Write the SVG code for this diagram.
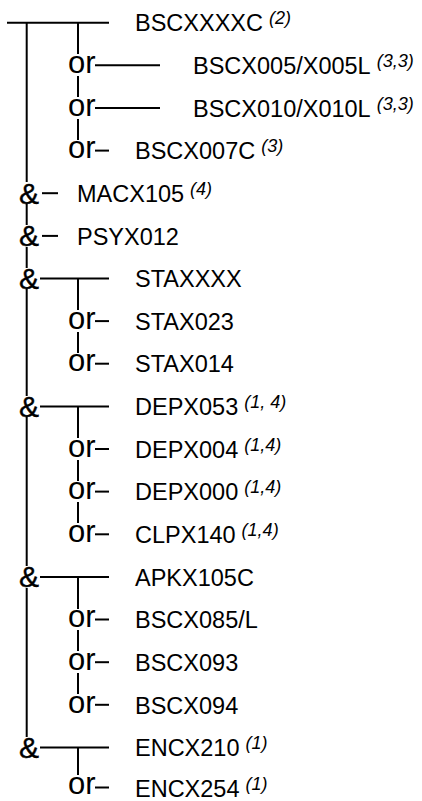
<svg xmlns="http://www.w3.org/2000/svg" width="422" height="801" viewBox="0 0 422 801">
<style>
.ln{stroke:#000;stroke-width:2;fill:none}
.t{font-family:"Liberation Sans",Arial,sans-serif;font-size:23.5px;fill:#000}
.s{font-family:"Liberation Sans",Arial,sans-serif;font-size:18px;font-style:italic;fill:#000}
.or{font-family:"Liberation Sans",Arial,sans-serif;font-size:31px;fill:#000}
.amp{font-family:"Liberation Sans",Arial,sans-serif;font-size:30px;fill:#000;stroke:#000;stroke-width:0.4}
</style>
<rect width="422" height="801" fill="#fff"/>
<g id="connectors" class="ln">
<line x1="26.7" y1="22.7" x2="26.7" y2="182"/>
<line x1="26.7" y1="204" x2="26.7" y2="225"/>
<line x1="26.7" y1="247" x2="26.7" y2="268"/>
<line x1="26.7" y1="289" x2="26.7" y2="396"/>
<line x1="26.7" y1="417" x2="26.7" y2="566"/>
<line x1="26.7" y1="588" x2="26.7" y2="737"/>
<line x1="7" y1="22.7" x2="109" y2="22.7"/>
<line x1="78" y1="22.7" x2="78" y2="54"/>
<line x1="78" y1="76" x2="78" y2="97"/>
<line x1="78" y1="119" x2="78" y2="140"/>
<line x1="95" y1="65.3" x2="160" y2="65.3"/>
<line x1="95" y1="108" x2="160" y2="108"/>
<line x1="95" y1="150.6" x2="109" y2="150.6"/>
<line x1="42" y1="193.2" x2="58" y2="193.2"/>
<line x1="42" y1="235.9" x2="58" y2="235.9"/>
<line x1="40" y1="278.5" x2="109" y2="278.5"/>
<line x1="78" y1="278.5" x2="78" y2="310"/>
<line x1="78" y1="332" x2="78" y2="353"/>
<line x1="95" y1="321.1" x2="109" y2="321.1"/>
<line x1="95" y1="363.7" x2="109" y2="363.7"/>
<line x1="40" y1="406.4" x2="109" y2="406.4"/>
<line x1="78" y1="406.4" x2="78" y2="438"/>
<line x1="78" y1="460" x2="78" y2="481"/>
<line x1="78" y1="502" x2="78" y2="523"/>
<line x1="95" y1="449" x2="109" y2="449"/>
<line x1="95" y1="491.6" x2="109" y2="491.6"/>
<line x1="95" y1="534.3" x2="109" y2="534.3"/>
<line x1="40" y1="576.9" x2="109" y2="576.9"/>
<line x1="78" y1="576.9" x2="78" y2="609"/>
<line x1="78" y1="630" x2="78" y2="651"/>
<line x1="78" y1="673" x2="78" y2="694"/>
<line x1="95" y1="619.5" x2="109" y2="619.5"/>
<line x1="95" y1="662.2" x2="109" y2="662.2"/>
<line x1="95" y1="704.8" x2="109" y2="704.8"/>
<line x1="40" y1="747.4" x2="109" y2="747.4"/>
<line x1="78" y1="747.4" x2="78" y2="775"/>
<line x1="95" y1="787.5" x2="109" y2="787.5"/>
</g>
<g id="operators">
<text class="or" x="68" y="73">or</text>
<text class="or" x="68" y="115.7">or</text>
<text class="or" x="68" y="158.3">or</text>
<text class="amp" x="19" y="203.6">&amp;</text>
<text class="amp" x="19" y="246.3">&amp;</text>
<text class="amp" x="19" y="288.9">&amp;</text>
<text class="or" x="68" y="328.8">or</text>
<text class="or" x="68" y="371.4">or</text>
<text class="amp" x="19" y="416.8">&amp;</text>
<text class="or" x="68" y="456.7">or</text>
<text class="or" x="68" y="499.3">or</text>
<text class="or" x="68" y="542">or</text>
<text class="amp" x="19" y="587.3">&amp;</text>
<text class="or" x="68" y="627.2">or</text>
<text class="or" x="68" y="669.9">or</text>
<text class="or" x="68" y="712.5">or</text>
<text class="amp" x="19" y="757.8">&amp;</text>
<text class="or" x="68" y="794">or</text>
</g>
<g id="n-BSCXXXXC"><text class="t" x="135" y="31.4">BSCXXXXC<tspan class="s" dx="6" dy="-7">(2)</tspan></text></g>
<g id="n-BSCX005"><text class="t" x="193" y="74">BSCX005/X005L<tspan class="s" dx="6" dy="-7">(3,3)</tspan></text></g>
<g id="n-BSCX010"><text class="t" x="193" y="116.7">BSCX010/X010L<tspan class="s" dx="6" dy="-7">(3,3)</tspan></text></g>
<g id="n-BSCX007C"><text class="t" x="135" y="159.3">BSCX007C<tspan class="s" dx="6" dy="-7">(3)</tspan></text></g>
<g id="n-MACX105"><text class="t" x="77" y="201.9">MACX105<tspan class="s" dx="6" dy="-7">(4)</tspan></text></g>
<g id="n-PSYX012"><text class="t" x="77" y="244.6">PSYX012</text></g>
<g id="n-STAXXXX"><text class="t" x="135" y="287.2">STAXXXX</text></g>
<g id="n-STAX023"><text class="t" x="135" y="329.8">STAX023</text></g>
<g id="n-STAX014"><text class="t" x="135" y="372.4">STAX014</text></g>
<g id="n-DEPX053"><text class="t" x="135" y="415.1">DEPX053<tspan class="s" dx="6" dy="-7">(1, 4)</tspan></text></g>
<g id="n-DEPX004"><text class="t" x="135" y="457.7">DEPX004<tspan class="s" dx="6" dy="-7">(1,4)</tspan></text></g>
<g id="n-DEPX000"><text class="t" x="135" y="500.3">DEPX000<tspan class="s" dx="6" dy="-7">(1,4)</tspan></text></g>
<g id="n-CLPX140"><text class="t" x="135" y="543">CLPX140<tspan class="s" dx="6" dy="-7">(1,4)</tspan></text></g>
<g id="n-APKX105C"><text class="t" x="135" y="585.6">APKX105C</text></g>
<g id="n-BSCX085L"><text class="t" x="135" y="628.2">BSCX085/L</text></g>
<g id="n-BSCX093"><text class="t" x="135" y="670.9">BSCX093</text></g>
<g id="n-BSCX094"><text class="t" x="135" y="713.5">BSCX094</text></g>
<g id="n-ENCX210"><text class="t" x="135" y="756.1">ENCX210<tspan class="s" dx="6" dy="-7">(1)</tspan></text></g>
<g id="n-ENCX254"><text class="t" x="135" y="796.5">ENCX254<tspan class="s" dx="6" dy="-7">(1)</tspan></text></g>
</svg>
